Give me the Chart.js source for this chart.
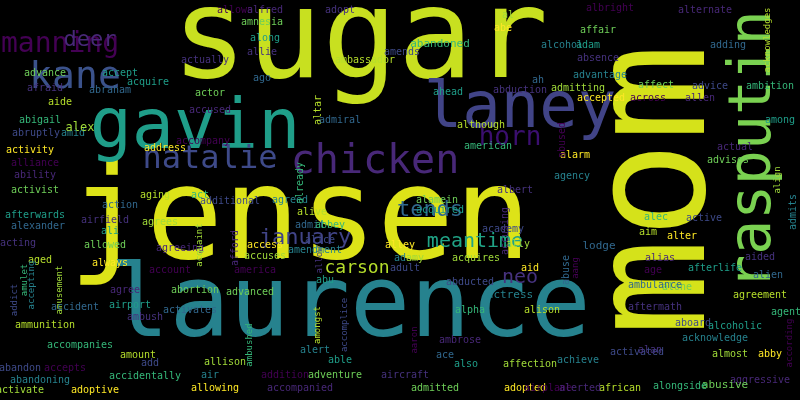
<!DOCTYPE html>
<html>
<head>
<meta charset="utf-8">
<script src="https://cdn.jsdelivr.net/npm/chart.js@4"></script>
<style>
  html, body { margin: 0; padding: 0; background: #000; }
  #wrap { width: 800px; height: 400px; }
</style>
</head>
<body>
<div id="wrap"><canvas id="cloud"></canvas></div>
<script>
// word cloud data: word, centre (x, y) in cloud units, font size, rotation, colour
const words  = ["sugar","jensen","laurence","mom","rasputin","gavin","laney","chicken","kane","manning","natalie","horn","january","tends","meantime","carson","neo","deer",
  "allows","alfred","amnesia","along","allie","ago","altar","abandoned","amends","alcohol","al","abe","albright","alternate","affair","adam","absence","adding","acknowledges","ambition","advice","advantage","admitting","accepted","across","allen","affect","ahead","abduction","ah","although","american","academy","agency","ally","alarm","abused","actual","advises","among","albert","lodge","aim","alec","active","admits","align","alter","age","alias","alone","afterlife","aided","alien","agreement","agent","aboard","acknowledge","almost","abby","according","aggressive","abusive","alcoholic","aftermath","ambulance","african","alongside","activated","achieve","affection","adopted","airplane","alerted","admitted","also","alan","abuse","alison","alpha","abducted","actress","acquires","aid","aang","accusing",
  "advance","accept","afraid","abraham","aide","abigail","abruptly","amid","alex","activity","alliance","ability","activist","afterwards","acting","alexander","aged","amulet","addict","accepting","amusement","always","account","agreeing","allowed","ali","airfield","action","aging","act","additional","agreed","agrees","address","accompany","accused","actor","acquire","actually","accident","ammunition","accompanies","abandon","abandoning","activate","adoptive","accepts","agree","abortion","airport","ambush","activates","amount","accidentally","add","air","allison","allowing","addition","accompanied","adventure","able","aircraft","ace","amongst","ambushed","accomplice","alert","accuses","access","america","afford","advanced","abu","allow","admit","alive","already","adult","ad","amy","alley","aaron","ambrose","alamein","acquired","adopt","admiral","ambassador","abbey","alice","amendment","acquaint"];
const xs     = [360,300,350,662,755,195,520,375,75,60,210,510,305,430,475,357,520,90,
  235,265,262,265,262,262,318,440,402,562,508,503,610,705,598,588,598,728,768,770,710,600,578,601,648,700,656,448,520,538,481,488,503,572,518,575,562,735,728,780,515,599,648,656,704,793,778,682,653,660,677,715,760,768,760,786,693,715,730,770,790,760,725,735,655,655,620,680,637,578,530,525,548,580,435,466,650,566,542,470,470,510,476,530,576,505,
  45,120,45,110,60,40,36,73,80,30,35,35,35,35,18,38,40,25,15,32,60,110,170,180,105,110,105,120,155,200,230,290,160,165,203,210,210,148,205,75,45,80,20,40,20,95,65,125,195,130,145,190,138,145,150,210,225,215,285,300,335,340,405,445,318,250,345,315,265,265,255,235,250,325,320,310,312,300,405,400,415,400,415,460,437,440,340,340,365,330,320,315,200];
const ys     = [45,225,310,190,150,130,110,163,78,45,160,138,238,210,242,268,278,40,
  10,10,22,38,52,78,110,44,52,45,15,28,8,10,30,45,58,45,40,86,86,75,88,98,98,98,85,92,90,80,125,146,229,176,244,155,140,147,160,120,190,246,232,217,218,212,180,236,270,258,287,268,257,275,295,312,323,338,354,354,343,380,385,326,307,285,388,386,352,360,364,388,388,388,388,364,350,270,310,310,282,295,258,268,268,231,
  73,73,88,90,102,120,133,133,128,150,163,175,190,215,243,226,260,280,300,285,290,263,270,248,245,231,220,205,195,195,201,200,222,148,141,110,93,82,60,307,325,345,368,380,390,390,368,290,290,305,317,310,355,376,363,375,362,388,375,388,375,360,375,355,325,345,325,350,256,245,270,248,292,280,260,225,212,183,268,258,258,245,340,340,200,210,10,120,60,225,240,250,245];
const sizes  = [125,128,100,162,58,70,64,40,38,28,32,26,22,22,20,18,20,22,
  10,10,10,10,10,10,10,11,10,10,10,10,10,10,10,10,10,10,9,10,10,10,10,10,10,10,10,10,10,10,10,10,10,10,10,10,10,10,10,10,10,11,10,10,10,10,9,10,10,10,10,10,10,10,10,10,10,10,10,10,9,10,11,10,10,10,10,10,10,10,10,10,10,10,10,10,10,10,10,10,10,11,10,10,9,10,
  10,10,10,10,10,10,10,10,12,10,10,10,10,10,10,10,10,9,9,9,9,10,10,10,10,10,10,10,10,10,10,10,10,10,10,10,10,10,10,10,10,10,10,10,10,10,10,10,10,10,10,10,10,10,10,10,10,10,10,10,10,10,10,10,9,9,9,10,10,10,10,10,10,10,9,10,10,10,10,10,10,10,9,10,10,10,10,10,10,10,10,10,9];
const rots   = [0,0,0,-90,-90,0,0,0,0,0,0,0,0,0,0,0,0,0,
  0,0,0,0,0,0,-90,0,0,0,0,0,0,0,0,0,0,0,-90,0,0,0,0,0,0,0,0,0,0,0,0,0,0,0,0,0,-90,0,0,0,0,0,0,0,0,-90,-90,0,0,0,0,0,0,0,0,0,0,0,0,0,-90,0,0,0,0,0,0,0,0,0,0,0,0,0,0,0,0,-90,0,0,0,0,0,0,-90,-90,
  0,0,0,0,0,0,0,0,0,0,0,0,0,0,0,0,0,-90,-90,-90,-90,0,0,0,0,0,0,0,0,0,0,0,0,0,0,0,0,0,0,0,0,0,0,0,0,0,0,0,0,0,0,0,0,0,0,0,0,0,0,0,0,0,0,0,-90,-90,-90,0,0,0,0,-90,0,0,-90,0,0,-90,0,0,0,0,-90,0,0,0,0,0,0,0,0,0,-90];
// small-word colours cycle through viridis shades
const palette = ["#b5de2b","#482878","#3e4a89","#1f9e89","#a0da39","#31688e","#440154","#35b779","#6ece58","#26828e","#46327e","#fde725"];
const topColors = ["#c8e020","#dde318","#26828e","#d5e21a","#7ad151","#1f9e89","#414487","#482878","#3b528b","#440154","#3e4a89","#3b0f70","#414487","#31688e","#20a386","#b5de2b","#46327e","#482878"];
const colors = words.map((w, i) => i < topColors.length ? topColors[i] : palette[(i * 7) % palette.length]);

const points = words.map((w, i) => ({ x: xs[i], y: ys[i] }));

// draws each word at its point, using the chart's own scales
const wordPlugin = {
  id: "words",
  beforeDraw(chart) {
    const c = chart.ctx;
    c.save();
    c.fillStyle = "#000";
    c.fillRect(0, 0, chart.width, chart.height);
    c.restore();
  },
  afterDatasetsDraw(chart) {
    const c = chart.ctx;
    const sx = chart.scales.x, sy = chart.scales.y;
    c.save();
    c.textAlign = "center";
    c.textBaseline = "middle";
    points.forEach((p, i) => {
      c.save();
      c.translate(sx.getPixelForValue(p.x), sy.getPixelForValue(p.y));
      c.rotate(rots[i] * Math.PI / 180);
      c.font = sizes[i] + "px 'DejaVu Sans Mono'";
      c.fillStyle = colors[i];
      c.fillText(words[i], 0, 0);
      c.restore();
    });
    c.restore();
  }
};

new Chart(document.getElementById("cloud"), {
  type: "scatter",
  data: { datasets: [{ data: points, pointRadius: 0 }] },
  options: {
    responsive: true,
    maintainAspectRatio: false,
    animation: false,
    layout: { padding: 0 },
    plugins: { legend: { display: false }, tooltip: { enabled: false } },
    scales: {
      x: { display: false, min: 0, max: 800 },
      y: { display: false, min: 0, max: 400, reverse: true }
    }
  },
  plugins: [wordPlugin]
});
</script>
</body>
</html>
